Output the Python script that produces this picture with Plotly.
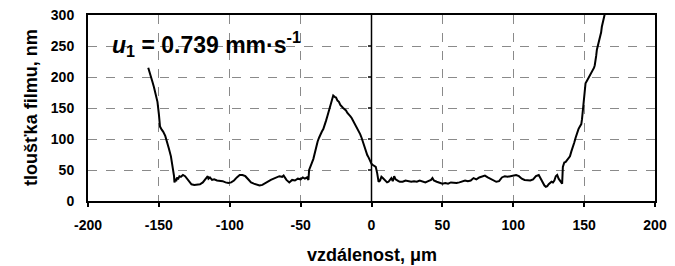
import plotly.graph_objects as go

x_left = [-157.5,-156,-154.5,-153.5,-152,-151,-150,-149.2,-148,-147,-145.5,-144,-143,-141.5,-140.5,-139.8,-139.3,-139,-138.3,-137.8,-137.2,-136.5,-135.5,-134.5,-133,-131.5,-130,-128.5,-127,-125,-123,-121,-119,-117,-115.5,-115,-114,-112.5,-111,-109,-107,-105,-103,-101,-99,-97,-95,-93,-91,-89,-87,-85,-83,-81,-79,-77,-75,-73,-71,-69,-67,-65,-63,-62,-60,-58,-56,-54,-52,-50,-48.5,-47,-45.5,-44.5,-44]
y_left = [215,205,192,184,170,160,140,120,115,112,105,95,85,72,60,50,40,30,36,32,38,35,40,39,42,40,35,30,27,26,27,27,30,35,40,36,38,34,35,33,33,32,30,29,30,33,38,42,42,40,35,30,28,26,25,26,29,32,34,36,38,40,39,41,34,30,34,33,36,35,38,36,38,34,50]

x_peak = [-43,-42,-41,-40,-39,-38,-37,-36,-35,-34,-33,-32,-31,-30,-29,-28,-27,-26,-25,-24,-23,-22,-21,-20,-19,-18,-17,-16,-15,-14,-13,-12,-11,-10,-9,-8,-7,-6,-5,-4,-3,-2,-1,0,1,2,3]
y_peak = [55,62,68,78,88,96,102,108,112,116,122,130,138,146,156,165,170,168,167,162,160,155,152,150,148,146,142,140,137,134,130,126,122,118,114,108,102,95,88,80,74,70,65,60,58,57,55]

x_flat = [4,4.5,5,6,7,8,9,10,11,12,13,14,15,16,17,18,19,20,22,24,26,28,30,32,34,36,38,40,42,43,44,46,48,50,52,54,56,58,60,62,64,66,68,70,72,74,76,78,80,82,84,86,88,90,92,94,96,98,100,102,104,106,108,110,112,114,116,118,120,121,122,123,124,125,126,127,128,129,130,131,132,133,134,134.5]
y_flat = [45,35,31,33,39,37,35,32,30,31,34,37,32,40,35,33,32,31,31,33,32,31,32,31,33,31,30,32,34,37,33,31,29,28,29,28,30,29,29,30,31,33,32,33,37,35,38,40,41,38,36,33,31,32,38,40,39,40,41,42,40,36,34,33,33,35,40,42,33,28,25,23,24,27,30,31,30,33,40,42,36,33,31,28]

x_right = [135,135.5,136,137,138,139,140,141,142,143,144,145,146,147,148,148.5,149,149.5,150,150.5,151,152,153,154,155,156,157,157.5,158,158.5,159,159.5,160,160.5,161,161.5,162,162.5,163,163.5,164,164.5]
y_right = [55,61,62,63,66,69,72,80,86,94,102,110,116,120,124,132,145,160,175,185,190,194,198,203,207,211,215,219,225,234,244,249,249,255,261,266,272,281,287,292,297,301]

x_ticks = [-200, -150, -100, -50, 0, 50, 100, 150, 200]
y_ticks = [0, 50, 100, 150, 200, 250, 300]

x_title = "vzdálenost, μm"
y_title = "tloušťka filmu, nm"

xs = x_left + x_peak + x_flat + x_right
ys = y_left + y_peak + y_flat + y_right

FONT = "Liberation Sans, Arial"

fig = go.Figure()
fig.add_trace(go.Scatter(x=xs, y=ys, mode="lines",
                         line=dict(color="black", width=2), showlegend=False,
                         cliponaxis=True))

# vertical line at x = 0 with small ticks
fig.add_shape(type="line", x0=0, x1=0, y0=0, y1=300, xref="x", yref="y",
              line=dict(color="black", width=1.5))
for yt in y_ticks[1:-1]:
    fig.add_shape(type="line", x0=-2.5, x1=0, y0=yt, y1=yt, xref="x", yref="y",
                  line=dict(color="black", width=1.5))

fig.add_annotation(x=-184.5, y=254, xref="x", yref="y", xanchor="left", yanchor="middle",
                   text="<b><i>u</i><sub>1</sub> = 0.739 mm·s<sup>-1</sup></b>",
                   showarrow=False,
                   font=dict(family=FONT, size=23, color="black"))

# axis titles
fig.add_annotation(x=0.5, y=0, xref="paper", yref="paper", xanchor="center", yanchor="middle",
                   yshift=-54, text=f"<b>{x_title}</b>", showarrow=False,
                   font=dict(family=FONT, size=18, color="black"))
fig.add_annotation(x=0, y=0.5, xref="paper", yref="paper", xanchor="center", yanchor="middle",
                   xshift=-57, textangle=-90, text=f"<b>{y_title}</b>", showarrow=False,
                   font=dict(family=FONT, size=18, color="black"))

fig.update_layout(
    width=675, height=266,
    margin=dict(l=88, r=20, t=15, b=65, autoexpand=False),
    paper_bgcolor="white", plot_bgcolor="white",
    font=dict(family=FONT, size=14, color="black"),
    xaxis=dict(range=[-200, 200], tickvals=x_ticks, automargin=False,
               ticktext=[f"<b>{v}</b>" for v in x_ticks],
               tickfont=dict(family=FONT, size=14, color="black"),
               showgrid=True, gridcolor="#8a8a8a", griddash="dash", gridwidth=1,
               zeroline=False, showline=True, linecolor="black", linewidth=2, mirror=True,
               ticks="outside", ticklen=4, tickcolor="black", tickwidth=1.5,
               ticklabelstandoff=6),
    yaxis=dict(range=[0, 300], tickvals=y_ticks, automargin=False,
               ticktext=[f"<b>{v}</b>" for v in y_ticks],
               tickfont=dict(family=FONT, size=14, color="black"),
               showgrid=True, gridcolor="#8a8a8a", griddash="dash", gridwidth=1,
               zeroline=False, showline=True, linecolor="black", linewidth=2, mirror=True,
               ticks="", ticklabelstandoff=9),
)

fig.write_html("out.html", config={"displayModeBar": False},
               post_script="document.body.style.margin='0';")
